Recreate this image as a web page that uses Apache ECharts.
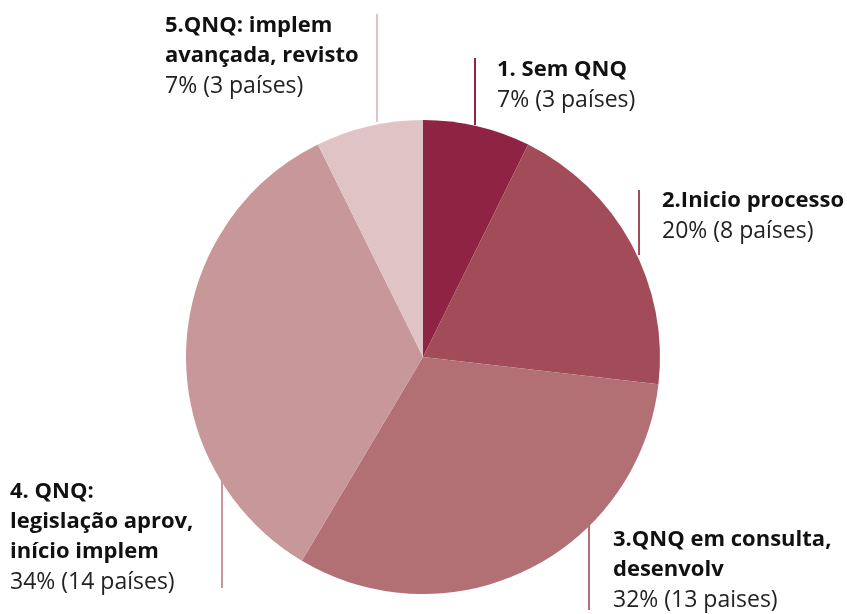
<!DOCTYPE html>
<html>
<head>
<meta charset="utf-8">
<script src="https://cdn.jsdelivr.net/npm/echarts@6/dist/echarts.min.js"></script>
<style>
    html, body { margin: 0; padding: 0; background: #fff; }
    #main { width: 847px; height: 614px; }
</style>
</head>
<body>
<div id="main"></div>
<script>
// dados
var names = [
    '1. Sem QNQ',
    '2.Inicio processo',
    '3.QNQ em consulta,\ndesenvolv',
    '4. QNQ:\nlegislação aprov,\ninício implem',
    '5.QNQ: implem\navançada, revisto'
];
var values = [3, 8, 13, 14, 3];
var valueLabels = ['7% (3 países)', '20% (8 países)', '32% (13 paises)', '34% (14 países)', '7% (3 países)'];
var colors = ['#8e2343', '#a24c5a', '#b37074', '#c89799', '#e0c4c5'];

// posição dos rótulos e das linhas verticais
var labelPos = [[497, 55], [662, 186], [613, 525], [10, 477], [165, 11]];
var linePos = [[475, 125, 58], [639, 255, 190], [589, 525, 610], [222, 480, 588], [377, 122, 14]];

var data = [];
for (let i = 0; i < values.length; i++) {
    data.push({
        name: names[i],
        value: values[i],
        itemStyle: { color: colors[i] },
        labelLine: { lineStyle: { color: colors[i] } }
    });
}

var myChart = echarts.init(document.getElementById('main'));
var option = {
    backgroundColor: '#fff',
    animation: false,
    series: [{
        type: 'pie',
        center: [423, 357],
        radius: [0, 237],
        startAngle: 90,
        clockwise: true,
        data: data,
        label: {
            show: true,
            overflow: 'none',
            formatter: function (p) {
                let lines = p.name.split('\n').map(function (s) { return '{b|' + s + '}'; });
                lines.push('{v|' + valueLabels[p.dataIndex] + '}');
                return lines.join('\n');
            },
            rich: {
                b: { fontFamily: 'Open Sans', fontWeight: 'bold', fontSize: 22, lineHeight: 30, color: '#111' },
                v: { fontFamily: 'Open Sans', fontWeight: 'normal', fontSize: 23, lineHeight: 30, color: '#222' }
            }
        },
        labelLine: { show: true, lineStyle: { width: 2 } },
        labelLayout: function (params) {
            let i = params.dataIndex;
            let l = linePos[i];
            return {
                x: labelPos[i][0],
                y: labelPos[i][1],
                align: 'left',
                verticalAlign: 'top',
                labelLinePoints: [[l[0], l[1]], [l[0], l[2]], [l[0], l[2]]]
            };
        }
    }]
};
myChart.setOption(option);
</script>
</body>
</html>
